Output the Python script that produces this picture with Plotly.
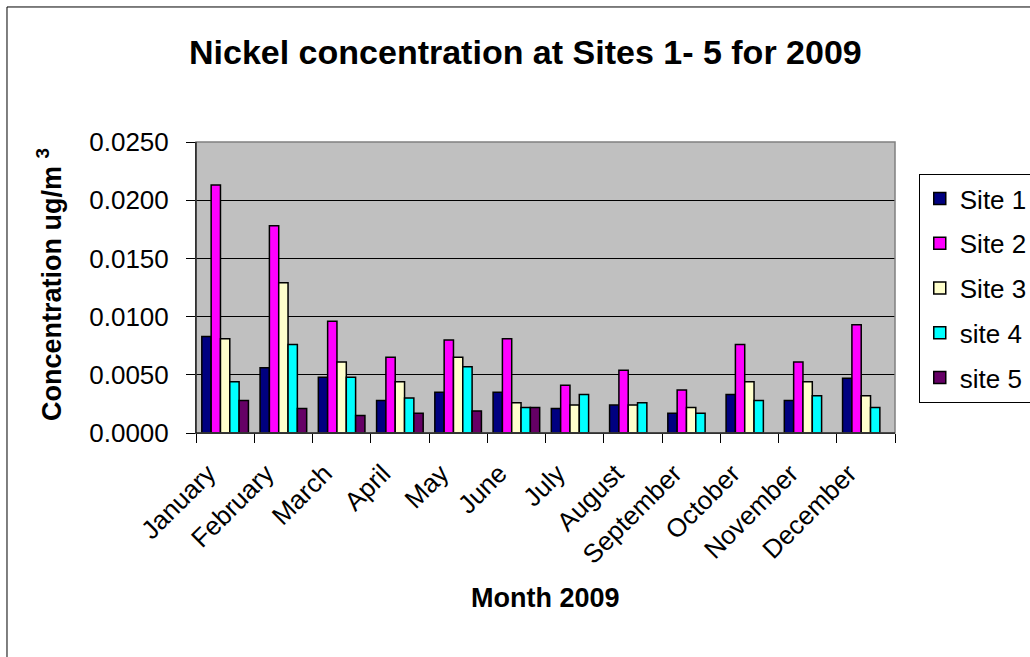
import plotly.graph_objects as go

months = ["January", "February", "March", "April", "May", "June", "July",
          "August", "September", "October", "November", "December"]
site1 = [0.0083, 0.0056, 0.0048, 0.0028, 0.0035, 0.0035, 0.0021, 0.0024, 0.0017, 0.0033, 0.0028, 0.0047]
site2 = [0.0213, 0.0178, 0.0096, 0.0065, 0.0080, 0.0081, 0.0041, 0.0054, 0.0037, 0.0076, 0.0061, 0.0093]
site3 = [0.0081, 0.0129, 0.0061, 0.0044, 0.0065, 0.0026, 0.0024, 0.0024, 0.0022, 0.0044, 0.0044, 0.0032]
site4 = [0.0044, 0.0076, 0.0048, 0.0030, 0.0057, 0.0022, 0.0033, 0.0026, 0.0017, 0.0028, 0.0032, 0.0022]
site5 = [0.0028, 0.0021, 0.0015, 0.0017, 0.0019, 0.0022, None, None, None, None, None, None]
series_names = ["Site 1", "Site 2", "Site 3", "site 4", "site 5"]
series_colors = ["#000080", "#FF00FF", "#FFFFCC", "#00FFFF", "#660066"]
y_ticks = [0.0, 0.005, 0.010, 0.015, 0.020, 0.025]

FONT = "Arial, Liberation Sans, sans-serif"

fig = go.Figure()
for i, (name, vals, col) in enumerate(zip(series_names, [site1, site2, site3, site4, site5], series_colors)):
    fig.add_trace(go.Bar(
        x=months, y=vals, name=name, legendgroup=name,
        marker=dict(color=col, line=dict(color="black", width=1.5)),
    ))

fig.update_layout(
    width=1030, height=657,
    margin=dict(l=196, r=135, t=142, b=224, autoexpand=False),
    paper_bgcolor="white", plot_bgcolor="#C0C0C0",
    barmode="group", bargap=0.2, bargroupgap=0,
    font=dict(family=FONT, color="black", size=26),
    showlegend=True,
    legend=dict(
        x=1.034, y=0.89, xanchor="left", yanchor="top",
        bgcolor="white", bordercolor="black", borderwidth=1,
        font=dict(size=26, family=FONT), tracegroupgap=8,
    ),
    xaxis=dict(
        type="category", tickangle=-45, tickson="boundaries",
        ticks="outside", ticklen=9, tickcolor="black",
        showline=True, linecolor="black", linewidth=1,
        showgrid=False, tickfont=dict(size=26, family=FONT),
        ticklabelstandoff=14, ticklabelshift=-17,
    ),
    yaxis=dict(
        range=[0, 0.025], tickvals=y_ticks, tickformat=".4f",
        ticks="outside", ticklen=9, tickcolor="black",
        showline=True, linecolor="black", linewidth=1,
        showgrid=True, gridcolor="black", gridwidth=1, zeroline=False,
        tickfont=dict(size=26, family=FONT), ticklabelstandoff=12,
    ),
    shapes=[
        dict(type="rect", xref="paper", yref="paper", x0=0, x1=1, y0=0, y1=1,
             line=dict(color="#808080", width=1.5), fillcolor="rgba(0,0,0,0)", layer="above"),
        dict(type="line", xref="paper", yref="paper", x0=0, x1=0, y0=0, y1=1,
             line=dict(color="black", width=1), layer="above"),
        dict(type="line", xref="paper", yref="paper", x0=0, x1=1, y0=0, y1=0,
             line=dict(color="black", width=1), layer="above"),
        dict(type="rect", xref="paper", yref="paper", x0=-0.2704, x1=1.25, y0=-0.95, y1=1.464,
             line=dict(color="black", width=1), fillcolor="rgba(0,0,0,0)", layer="above"),
    ],
    annotations=[
        dict(text="<b>Nickel concentration at Sites 1- 5 for 2009</b>", xref="paper", yref="paper",
             x=0.4707, y=1.309, xanchor="center", yanchor="middle", showarrow=False,
             font=dict(size=34, family=FONT)),
        dict(text="<b>Month 2009</b>", xref="paper", yref="paper",
             x=0.5, y=-0.567, xanchor="center", yanchor="middle", showarrow=False,
             font=dict(size=27, family=FONT)),
        dict(text="<b>Concentration ug/m <sup>3</sup></b>", xref="paper", yref="paper",
             x=-0.21, y=0.509, xanchor="center", yanchor="middle", showarrow=False,
             textangle=-90, font=dict(size=27, family=FONT)),
    ],
)

fig.write_html("out.html", config={"displayModeBar": False},
               post_script="document.body.style.margin='0';document.body.style.overflow='hidden';")
